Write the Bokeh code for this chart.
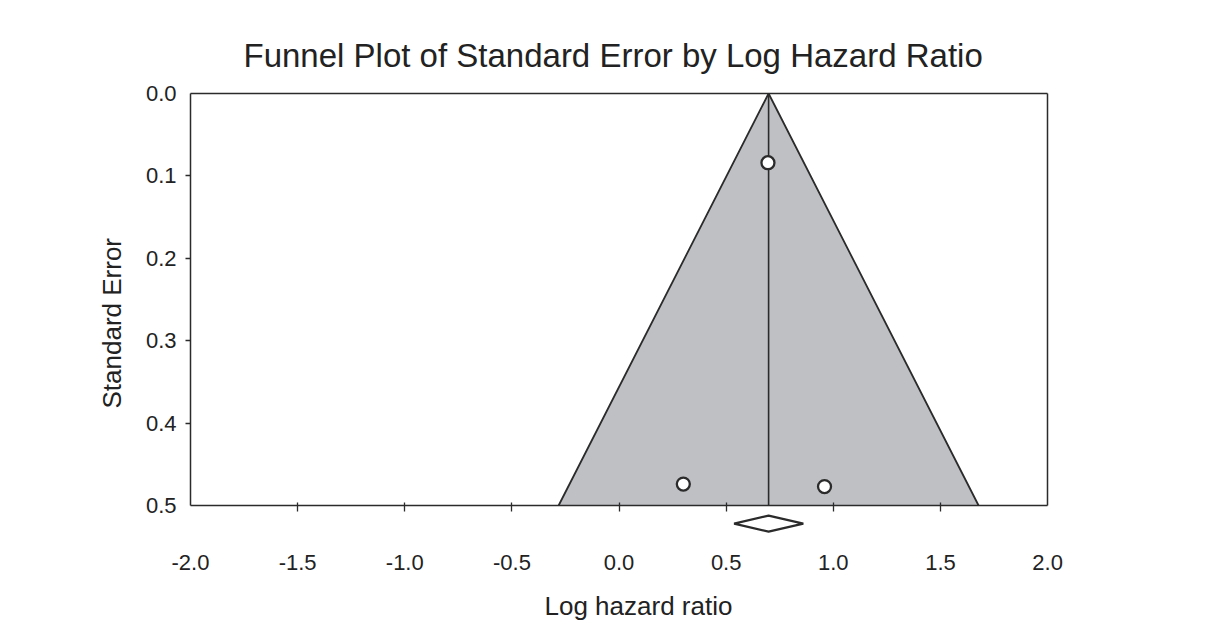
import math
from bokeh.plotting import figure
from bokeh.models import Range1d, FixedTicker, PrintfTickFormatter, LinearAxis, Title
from bokeh.embed import file_html
from bokeh.resources import INLINE

# ---- data ----
study_log_hr = [0.695, 0.300, 0.959]
study_se = [0.084, 0.474, 0.477]
pooled_log_hr = 0.698
pooled_ci = [0.537, 0.860]
se_max = 0.5
x_min, x_max = -2.0, 2.0
x_ticks = [-2.0, -1.5, -1.0, -0.5, 0.0, 0.5, 1.0, 1.5, 2.0]
y_ticks = [0.0, 0.1, 0.2, 0.3, 0.4, 0.5]

FONT = "Liberation Sans"
DARK = "#2b2b2b"
TXT = "#222222"

p = figure(
    output_backend="svg", toolbar_location=None,
    frame_width=930, frame_height=499,
    min_border_left=140, min_border_right=140,
    min_border_top=81, min_border_bottom=30,
    x_range=Range1d(-2.2334, 2.107), y_range=Range1d(0.591, -0.01456),
)
p.grid.visible = False
p.background_fill_color = "white"
p.border_fill_color = "white"
p.outline_line_color = None

# funnel
z = 1.96
lo = pooled_log_hr - z * se_max
hi = pooled_log_hr + z * se_max
p.patch([lo, pooled_log_hr, hi], [se_max, 0.0, se_max], fill_color="#bfc0c4", line_color=None)
p.line([lo, pooled_log_hr, hi], [se_max, 0.0, se_max], line_color=DARK, line_width=1.8)
p.line([pooled_log_hr, pooled_log_hr], [0.0, se_max], line_color=DARK, line_width=1.6)

# studies
p.scatter(study_log_hr, study_se, size=13, fill_color="white", line_color=DARK, line_width=2.3)

# pooled diamond below the axis
dy = 0.0097
yc = 0.522
p.patch([pooled_ci[0], pooled_log_hr, pooled_ci[1], pooled_log_hr],
        [yc, yc - dy, yc, yc + dy],
        fill_color="white", line_color=DARK, line_width=2.2)

# x axis at SE = 0.5
xa = p.xaxis[0]
xa.fixed_location = se_max
xa.bounds = (x_min, x_max)
xa.ticker = FixedTicker(ticks=x_ticks, minor_ticks=x_ticks[1:-1])
xa.formatter = PrintfTickFormatter(format="%.1f")
xa.axis_line_color = DARK
xa.axis_line_width = 1.5
xa.major_tick_line_color = None
xa.minor_tick_line_color = DARK
xa.minor_tick_line_width = 1.3
xa.minor_tick_in = 3
xa.minor_tick_out = 6
xa.major_label_standoff = 43
xa.major_label_text_font = FONT
xa.major_label_text_font_size = "22px"
xa.major_label_text_color = TXT

# y axis at x = -2
ya = p.yaxis[0]
ya.fixed_location = x_min
ya.bounds = (0.0, se_max)
ya.ticker = FixedTicker(ticks=y_ticks, minor_ticks=y_ticks[1:-1])
ya.formatter = PrintfTickFormatter(format="%.1f")
ya.axis_line_color = DARK
ya.axis_line_width = 1.5
ya.major_tick_line_color = None
ya.minor_tick_line_color = DARK
ya.minor_tick_line_width = 1.3
ya.minor_tick_in = 0
ya.minor_tick_out = 5
ya.major_label_standoff = 8
ya.major_label_text_font = FONT
ya.major_label_text_font_size = "22px"
ya.major_label_text_color = TXT

# box: top and right edges
top_ax = LinearAxis(ticker=FixedTicker(ticks=[]), axis_line_color=DARK, axis_line_width=1.5,
                    major_tick_line_color=None, minor_tick_line_color=None,
                    major_label_text_font_size="0px", major_label_standoff=0,
                    major_tick_out=0, minor_tick_out=0, bounds=(x_min, x_max),
                    fixed_location=0.0)
p.add_layout(top_ax, "above")
right_ax = LinearAxis(ticker=FixedTicker(ticks=[]), axis_line_color=DARK, axis_line_width=1.5,
                      major_tick_line_color=None, minor_tick_line_color=None,
                      major_label_text_font_size="0px", major_label_standoff=0,
                      major_tick_out=0, minor_tick_out=0, bounds=(0.0, se_max),
                      fixed_location=x_max)
p.add_layout(right_ax, "right")

# titles
p.add_layout(Title(text="Log hazard ratio", align="left", offset=404,
                   text_font=FONT, text_font_size="26px", text_font_style="normal",
                   text_color=TXT, standoff=17), "below")
p.add_layout(Title(text="Standard Error", align="left", offset=172,
                   text_font=FONT, text_font_size="26px", text_font_style="normal",
                   text_color=TXT, standoff=28), "left")
p.add_layout(Title(text="Funnel Plot of Standard Error by Log Hazard Ratio", align="left",
                   offset=103,
                   text_font=FONT, text_font_size="33px", text_font_style="normal",
                   text_color=TXT, standoff=16), "above")

open("out.html", "w").write(file_html(p, INLINE))
